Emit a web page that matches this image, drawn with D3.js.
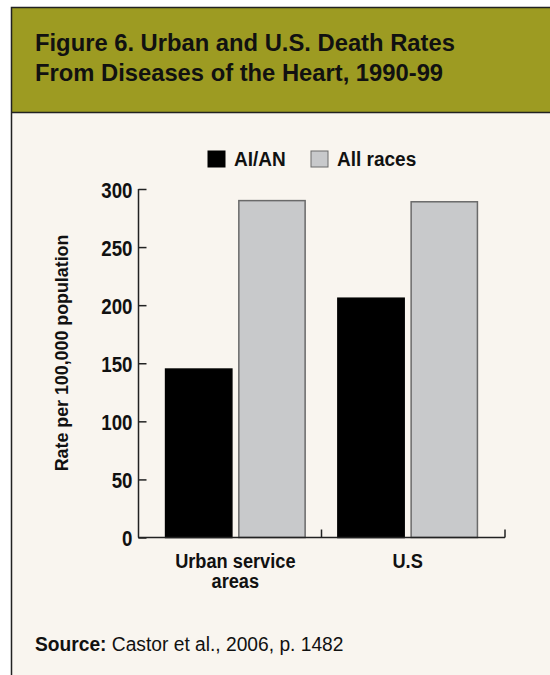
<!DOCTYPE html>
<html>
<head>
<meta charset="utf-8">
<script src="https://cdn.jsdelivr.net/npm/d3@7"></script>
<style>
  html, body { margin: 0; padding: 0; background: #fff; }
  svg { display: block; }
  text { font-family: 'Liberation Sans', Arial, sans-serif; }
</style>
</head>
<body>
<svg id="chart"></svg>
<script>
const categories = ['Urban service areas', 'U.S']
const categoryLines = [['Urban service', 'areas'], ['U.S']]
const seriesNames = ['AI/AN', 'All races']
const aianValues = [145, 206]
const allRacesValues = [290, 289]
const yTicks = [0, 50, 100, 150, 200, 250, 300]

const width = 550
const height = 675
const fillColors = { 'AI/AN': '#000000', 'All races': '#c8c9cb' }
const strokeColors = { 'AI/AN': '#000000', 'All races': '#6a6a6a' }

// the original uses a gothic face a bit narrower than Arial, squeeze to match
const narrow = k => sel => sel.each(function () {
  let w = this.getComputedTextLength()
  d3.select(this).attr('textLength', w * k).attr('lengthAdjust', 'spacingAndGlyphs')
})

let data = categories.map((c, i) => ({
  category: c,
  values: [
    { series: 'AI/AN', value: aianValues[i] },
    { series: 'All races', value: allRacesValues[i] }
  ]
}))

let svg = d3.select('#chart')
  .attr('width', width)
  .attr('height', height)

// frame
svg.append('rect')
  .attr('x', 11).attr('y', 7)
  .attr('width', width).attr('height', height)
  .attr('fill', '#f9f5ef')
svg.append('rect')
  .attr('x', 11).attr('y', 7)
  .attr('width', width).attr('height', 105)
  .attr('fill', '#9d9b22')
svg.append('path')
  .attr('d', `M${width},7.5 H11.5 V${height}`)
  .attr('fill', 'none')
  .attr('stroke', '#222')
  .attr('stroke-width', 1.5)
svg.append('line')
  .attr('x1', 11).attr('x2', width)
  .attr('y1', 112.5).attr('y2', 112.5)
  .attr('stroke', '#222')
  .attr('stroke-width', 1.5)

let titleLines = ['Figure 6. Urban and U.S. Death Rates', 'From Diseases of the Heart, 1990-99']
svg.append('g')
  .selectAll('text')
  .data(titleLines)
  .enter()
  .append('text')
  .attr('x', 35)
  .attr('y', (d, i) => 51 + i * 30)
  .attr('font-size', 24)
  .attr('font-weight', 'bold')
  .attr('fill', '#111')
  .text(d => d)
  .call(narrow(0.99))

// scales
let y = d3.scaleLinear()
  .domain([0, 300])
  .range([537.5, 189])

let x0 = d3.scaleBand()
  .domain(categories)
  .range([138, 505])
  .paddingInner(0.19)
  .paddingOuter(0.16)

let x1 = d3.scaleBand()
  .domain(seriesNames)
  .range([0, x0.bandwidth()])
  .paddingInner(0.095)

// bars
let groups = svg.append('g')
  .selectAll('g')
  .data(data)
  .enter()
  .append('g')
  .attr('transform', d => `translate(${x0(d.category)},0)`)

groups.selectAll('rect')
  .data(d => d.values)
  .enter()
  .append('rect')
  .attr('x', d => x1(d.series))
  .attr('y', d => y(d.value))
  .attr('width', x1.bandwidth())
  .attr('height', d => y(0) - y(d.value))
  .attr('fill', d => fillColors[d.series])
  .attr('stroke', d => strokeColors[d.series])
  .attr('stroke-width', 1.5)

// y axis
let yAxis = svg.append('g')
  .attr('transform', 'translate(138.5,0)')
  .call(d3.axisRight(y).tickValues(yTicks).tickSize(8).tickFormat(d3.format('d')))
yAxis.select('.domain').remove()
yAxis.selectAll('.tick line').attr('stroke', '#222').attr('stroke-width', 1.5)
yAxis.selectAll('.tick text')
  .attr('x', -6)
  .attr('text-anchor', 'end')
  .attr('font-size', 22.5)
  .attr('font-weight', 'bold')
  .attr('fill', '#111')
  .attr('dy', '0.36em')
  .style('font-family', "'Liberation Sans', Arial, sans-serif")
  .call(narrow(0.83))

svg.append('line')
  .attr('x1', 138.5).attr('x2', 138.5)
  .attr('y1', y(300)).attr('y2', y(0))
  .attr('stroke', '#222').attr('stroke-width', 1.5)

// x axis
svg.append('line')
  .attr('x1', 138).attr('x2', 505)
  .attr('y1', y(0)).attr('y2', y(0))
  .attr('stroke', '#222').attr('stroke-width', 1.5)

let boundaries = categories.map(c => x0(c) + x0.bandwidth() + x0.step() * x0.paddingInner() / 2)
boundaries[boundaries.length - 1] = 505
svg.append('g')
  .selectAll('line')
  .data(boundaries)
  .enter()
  .append('line')
  .attr('x1', d => d).attr('x2', d => d)
  .attr('y1', y(0)).attr('y2', y(0) - 8)
  .attr('stroke', '#222').attr('stroke-width', 1.5)

let xLabelData = []
categories.forEach((c, i) => categoryLines[i].forEach((l, j) => xLabelData.push({ c, line: l, row: j })))
svg.append('g')
  .selectAll('text')
  .data(xLabelData)
  .enter()
  .append('text')
  .attr('x', d => x0(d.c) + x0.bandwidth() / 2)
  .attr('y', d => 568 + d.row * 20)
  .attr('text-anchor', 'middle')
  .attr('font-size', 20)
  .attr('font-weight', 'bold')
  .attr('fill', '#111')
  .text(d => d.line)
  .call(narrow(0.91))

// y title
svg.append('text')
  .attr('transform', 'translate(68,353) rotate(-90)')
  .attr('text-anchor', 'middle')
  .attr('font-size', 18)
  .attr('font-weight', 'bold')
  .attr('fill', '#111')
  .text('Rate per 100,000 population')
  .call(narrow(0.99))

// legend
let legendX = [208, 311]
let legend = svg.append('g')
  .selectAll('g')
  .data(seriesNames)
  .enter()
  .append('g')
  .attr('transform', (d, i) => `translate(${legendX[i]},151)`)
legend.append('rect')
  .attr('width', 17).attr('height', 16)
  .attr('fill', d => fillColors[d])
  .attr('stroke', d => strokeColors[d])
  .attr('stroke-width', 1)
legend.append('text')
  .attr('x', 26).attr('y', 15)
  .attr('font-size', 20)
  .attr('font-weight', 'bold')
  .attr('fill', '#111')
  .text(d => d)
  .call(narrow(0.95))

// source
let source = svg.append('text')
  .attr('x', 35).attr('y', 651)
  .attr('font-size', 20)
  .attr('fill', '#111')
source.append('tspan').attr('font-weight', 'bold').text('Source:')
source.append('tspan').text(' Castor et al., 2006, p. 1482')
source.call(narrow(0.96))
</script>
</body>
</html>
